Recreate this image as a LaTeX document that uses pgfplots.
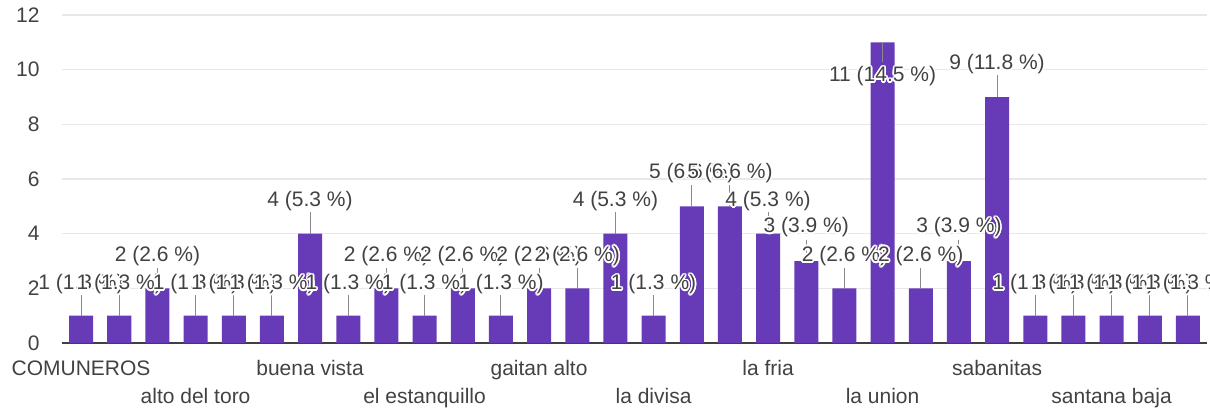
\documentclass[border=0pt]{standalone}
\usepackage{pgfplots}
\pgfplotsset{compat=1.18}
\usepackage{fontspec}
\setmainfont{Liberation Sans}
\usepackage{contour}
\contourlength{0.8pt}
\definecolor{barc}{HTML}{673AB7}
\definecolor{txt}{HTML}{424242}
\definecolor{gridc}{HTML}{E8E8E8}
\definecolor{lead}{HTML}{8A8A8A}
\newcommand{\lf}{\fontsize{10.5}{12}\selectfont}
\begin{document}
\begin{tikzpicture}
\begin{axis}[
  name=ax, scale only axis, width=572.5pt, height=164pt,
  xmin=-0.5, xmax=29.5, ymin=0, ymax=12,
  ytick={0,2,...,12},
  axis line style={draw=none},
  ymajorgrids, grid style={gridc, line width=0.6pt},
  major tick length=0pt,
  /pgf/number format/assume math mode=true,
  xtick={0,6,12,18,24},
  xticklabels={COMUNEROS, buena vista, gaitan alto, la fria, sabanitas},
  extra x ticks={3,9,15,21,27},
  extra x tick labels={alto del toro, el estanquillo, la divisa, la union, santana baja},
  extra x tick style={xticklabel style={yshift=-14pt}},
  xticklabel style={anchor=base, yshift=-16pt, inner sep=0pt, font=\lf, text=txt},
  yticklabel style={anchor=east, inner sep=0pt, xshift=-11pt, font=\lf, text=txt},
  extra y ticks={0}, extra y tick labels={},
  extra y tick style={grid style={draw=black!75, line width=0.75pt}},
  clip=false,
]
\addplot[ybar, bar width=12pt, fill=barc, draw=none,
  error bars/.cd, y dir=both, y explicit, error mark=none,
  error bar style={draw=lead, line width=0.5pt}]
  table[x=x, y=v, y error plus=ep, y error minus=em] {
x v ep em
0 1 0.75 0
1 1 0.75 0
2 2 0.75 0
3 1 0.75 0
4 1 0.75 0
5 1 0.75 0
6 4 0.78 0
7 1 0.75 0
8 2 0.75 0
9 1 0.75 0
10 2 0.75 0
11 1 0.75 0
12 2 0.75 0
13 2 0.75 0
14 4 0.78 0
15 1 0.75 0
16 5 0.78 0
17 5 0.78 0
18 4 0.78 0
19 3 0.78 0
20 2 0.75 0
21 11 0 0.73
22 2 0.75 0
23 3 0.78 0
24 9 0.8 0
25 1 0.75 0
26 1 0.75 0
27 1 0.75 0
28 1 0.75 0
29 1 0.75 0
};
\addplot[draw=none, nodes near coords={\contour{white}{\pgfplotspointmeta}},
  point meta=explicit symbolic,
  nodes near coords style={anchor=center, inner sep=0pt, font=\lf, text=txt}]
  coordinates {
(0,2.12) [1 (1.3 \%)]
(1,2.12) [1 (1.3 \%)]
(2,3.15) [2 (2.6 \%)]
(3,2.12) [1 (1.3 \%)]
(4,2.12) [1 (1.3 \%)]
(5,2.12) [1 (1.3 \%)]
(6,5.16) [4 (5.3 \%)]
(7,2.12) [1 (1.3 \%)]
(8,3.15) [2 (2.6 \%)]
(9,2.12) [1 (1.3 \%)]
(10,3.15) [2 (2.6 \%)]
(11,2.12) [1 (1.3 \%)]
(12,3.15) [2 (2.6 \%)]
(13,3.15) [2 (2.6 \%)]
(14,5.16) [4 (5.3 \%)]
(15,2.12) [1 (1.3 \%)]
(16,6.2) [5 (6.6 \%)]
(17,6.2) [5 (6.6 \%)]
(18,5.16) [4 (5.3 \%)]
(19,4.2) [3 (3.9 \%)]
(20,3.15) [2 (2.6 \%)]
(21,9.73) [11 (14.5 \%)]
(22,3.15) [2 (2.6 \%)]
(23,4.2) [3 (3.9 \%)]
(24,10.17) [9 (11.8 \%)]
(25,2.12) [1 (1.3 \%)]
(26,2.12) [1 (1.3 \%)]
(27,2.12) [1 (1.3 \%)]
(28,2.12) [1 (1.3 \%)]
(29,2.12) [1 (1.3 \%)]
};
\end{axis}
\pgfresetboundingbox
\path ([shift={(-31pt,-35.5pt)}]ax.south west) rectangle ([shift={(1.5pt,7.5pt)}]ax.north east);
\end{tikzpicture}
\end{document}
